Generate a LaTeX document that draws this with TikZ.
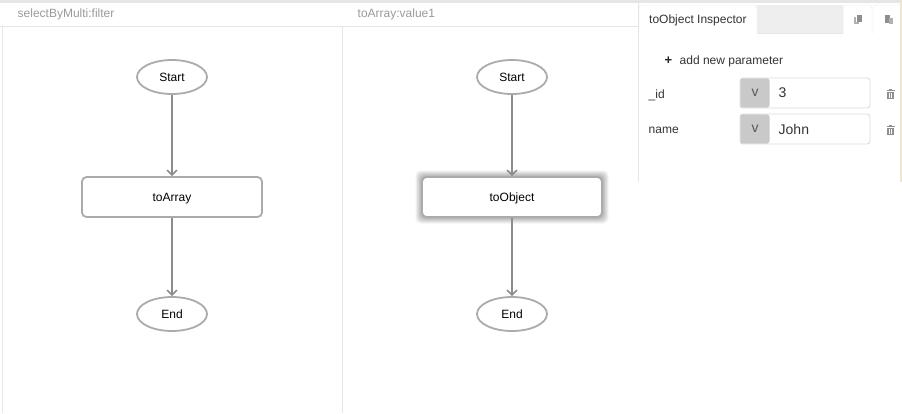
\documentclass[tikz,border=0pt]{standalone}
\usepackage{fontspec}
\setmainfont{Liberation Sans}
\usepackage{tikz}
\usetikzlibrary{arrows.meta}
\usetikzlibrary{shapes.geometric}

\definecolor{flowline}{HTML}{8C8C8C}
\definecolor{nodeline}{HTML}{ABABAB}
\definecolor{paneline}{HTML}{E6E6E6}
\definecolor{headtext}{HTML}{9A9A9A}
\definecolor{iconcol}{HTML}{8F8F8F}
\definecolor{tabgray}{HTML}{EEEEEE}
\definecolor{vgray}{HTML}{C9C9C9}
\definecolor{tanedge}{HTML}{EFE6D2}

\tikzset{
    endnode/.style={ellipse, draw=nodeline, fill=white, line width=1.8pt, minimum width=70pt, minimum height=34pt, inner sep=0pt, font=\fontsize{12}{14}\selectfont},
    boxnode/.style={rectangle, rounded corners=4.5pt, draw=nodeline, fill=white, line width=1.8pt, minimum width=180pt, minimum height=40pt, inner sep=0pt, font=\fontsize{12}{14}\selectfont, text height=10pt, text depth=2pt},
    flow/.style={draw=flowline, line width=1.8pt, -{Straight Barb[length=5pt,width=10pt,line width=1.5pt]}},
    headlabel/.style={anchor=west, inner sep=0pt, text=headtext, font=\fontsize{12}{14}\selectfont},
    panellabel/.style={anchor=west, inner sep=0pt, text=black!80, font=\fontsize{12}{14}\selectfont},
    fieldbox/.style={rectangle, rounded corners=3pt, draw=black!14, fill=white, line width=0.9pt, minimum width=130pt, minimum height=30pt, inner sep=0pt},
    vlabel/.style={inner sep=0pt, text=black!65, font=\fontsize{14}{15}\selectfont},
    fieldtext/.style={anchor=west, inner sep=0pt, text=black!80, font=\fontsize{14}{16}\selectfont},
    trashicon/.pic={
        \fill[iconcol] (-4,-4.5) rectangle (4,-3.5);
        \fill[iconcol] (-1.5,-5.5) rectangle (1.5,-4.5);
        \fill[iconcol] (-3.2,-2.5) rectangle (3.2,4.5);
        \fill[white] (-1.7,-1.5) rectangle (-0.8,3.5);
        \fill[white] (0.8,-1.5) rectangle (1.7,3.5);
    },
    copyicon/.pic={
        \fill[iconcol!70] (-4,-2.5) rectangle (1,5);
        \fill[white] (-2.2,-4.5) rectangle (3.8,3.2);
        \fill[iconcol] (-1.5,-4.5) rectangle (4,3.2);
    },
    pasteicon/.pic={
        \fill[iconcol] (-4,-4.5) rectangle (0.8,4);
        \fill[iconcol!70] (0,-1) rectangle (4,5);
    },
}

\begin{document}
\begin{tikzpicture}[x=1pt, y=-1pt]
    \useasboundingbox (0,0) rectangle (902,413);
    \fill[white] (0,0) rectangle (902,413);

    % panes
    \fill[paneline] (0,0) rectangle (640,2.5);
    \draw[paneline, line width=1pt] (0,26) -- (638,26);
    \draw[paneline, line width=1pt] (2.5,26) -- (2.5,413);
    \draw[paneline, line width=1pt] (342.5,26) -- (342.5,413);
    \node[headlabel] (filterhead) at (17.5,14.5) {selectByMulti:filter};
    \node[headlabel] (valuehead) at (357.5,14.5) {toArray:value1};

    % left flow
    \node[endnode] (startA) at (172,77) {Start};
    \node[boxnode] (toArray) at (172,197) {toArray};
    \node[endnode] (endA) at (172,314) {End};
    \draw[flow] (startA) -- (toArray);
    \draw[flow] (toArray) -- (endA);

    % right flow
    \foreach \g in {6.5,5.5,4.5,3.5,2.5,1.5}
        \fill[black, opacity=0.05, rounded corners=5pt] (422-\g,177-\g) rectangle (602+\g,217+\g);
    \node[endnode] (startB) at (512,77) {Start};
    \node[boxnode] (toObject) at (512,197) {toObject};
    \node[endnode] (endB) at (512,314) {End};
    \draw[flow] (startB) -- (toObject);
    \draw[flow] (toObject) -- (endB);

    % inspector
    \fill[white] (638.5,0) rectangle (902,182);
    \fill[paneline] (638,0) rectangle (902,2.5);
    \draw[paneline, line width=1pt] (638.5,0) -- (638.5,182);
    \fill[tabgray] (757,5) rectangle (843,33);
    \draw[black!10, line width=0.8pt] (757,33.5) -- (843,33.5);
    \draw[black!8, fill=white, rounded corners=3pt] (639,33.5) -- (639,5) -- (757,5) -- (757,33.5);
    \draw[black!8, fill=white, rounded corners=3pt] (843.5,33.5) -- (843.5,5) -- (872,5) -- (872,33.5);
    \draw[black!8, fill=white, rounded corners=3pt] (873.5,33.5) -- (873.5,5) -- (900,5);
    \fill[tanedge] (899.5,0) rectangle (902,182);
    \node[panellabel] (inspectortab) at (649,20) {toObject Inspector};
    \pic at (858,19) {copyicon};
    \pic at (889,19) {pasteicon};

    \node[font=\bfseries\fontsize{13}{13}\selectfont, inner sep=0pt, text=black!85] (addplus) at (668.5,60.5) {+};
    \node[panellabel] (addlabel) at (679.5,61) {add new parameter};

    \node[panellabel] (idlabel) at (648.5,95) {\_id};
    \node[fieldbox] (idfield) at (805,93) {};
    \fill[vgray, rounded corners=2.5pt] (740.4,78.4) rectangle (769.5,107.6);
    \node[vlabel] (idv) at (755,93) {v};
    \node[fieldtext] (idvalue) at (778.5,93) {3};
    \pic at (890.5,94.5) {trashicon};

    \node[panellabel] (namelabel) at (648.5,130) {name};
    \node[fieldbox] (namefield) at (805,129) {};
    \fill[vgray, rounded corners=2.5pt] (740.4,114.4) rectangle (769.5,143.6);
    \node[vlabel] (namev) at (755,129) {v};
    \node[fieldtext] (namevalue) at (778.5,129) {John};
    \pic at (890.5,130.5) {trashicon};
\end{tikzpicture}
\end{document}
